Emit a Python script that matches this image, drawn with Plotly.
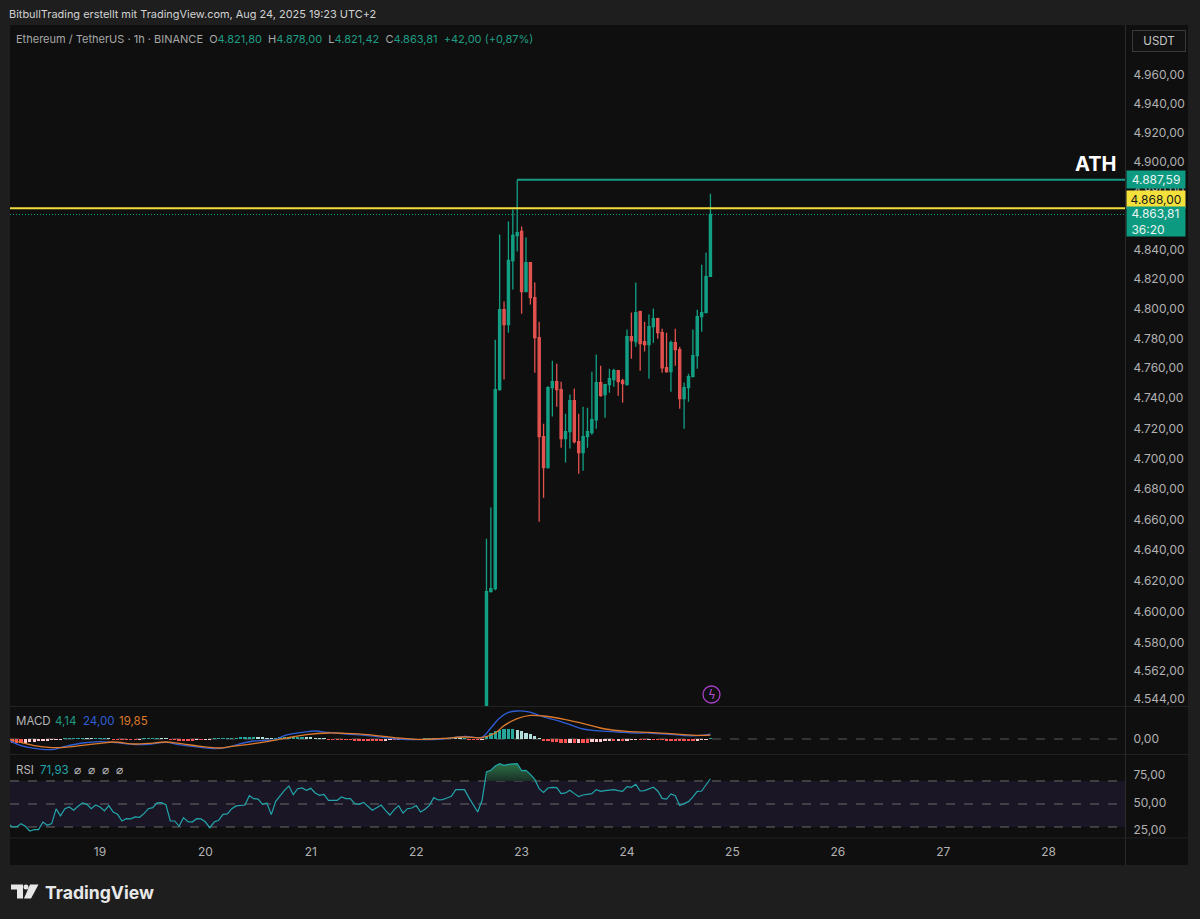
import math
import pandas as pd
import plotly.graph_objects as go
from plotly.subplots import make_subplots

# candles, 1h, Aug 22 16:00 -> Aug 24 19:00
candle_open = [4500, 4613.1, 4615, 4745.7, 4799.3, 4789.2, 4832.5, 4849.5, 4852.2, 4811.5, 4831.1, 4807.4, 4780.5,
               4714.5, 4694.1, 4747, 4751, 4745.7, 4713.2, 4717.8, 4738.4, 4711.2, 4704, 4714.5, 4717.2, 4725.7,
               4750.4, 4742.4, 4749, 4752.4, 4758.3, 4751.7, 4749, 4781.2, 4777.8, 4798, 4777.8, 4775.8, 4787.9,
               4793.3, 4783.8, 4760.3, 4757.7, 4777.1, 4772.4, 4739.7, 4747, 4754.4, 4768.4, 4794.6, 4797.3, 4821.8]
candle_high = [4647.5, 4667.8, 4779.1, 4850.1, 4804.7, 4859, 4867.2, 4887.59, 4855.6, 4848.1, 4831.5, 4817.6, 4791.2,
               4723.1, 4748, 4765, 4763, 4751, 4729.7, 4742.4, 4746.4, 4729.7, 4734.4, 4733.7, 4757.7, 4769.1,
               4761.7, 4749.7, 4759.7, 4759.7, 4758.8, 4753, 4785.9, 4797.3, 4817.6, 4798.5, 4791.2, 4796, 4800,
               4793.8, 4786.5, 4783.8, 4778.5, 4786.5, 4774.4, 4750.4, 4756.3, 4785.9, 4799.3, 4829.7, 4837.9, 4878]
candle_low = [4500, 4612.5, 4614, 4745, 4752.4, 4783.8, 4812.8, 4838.6, 4796.6, 4811, 4802.7, 4757, 4658.6,
              4674.3, 4693.5, 4727.8, 4734.4, 4707.2, 4697.4, 4706.6, 4709.9, 4690, 4692, 4707.2, 4715.8, 4719.8,
              4741, 4727, 4743.7, 4747.7, 4741.7, 4737, 4748.5, 4766.4, 4774.4, 4758.3, 4771.1, 4753, 4777.1,
              4779.8, 4757, 4757, 4744.3, 4761.7, 4733, 4719.8, 4737.7, 4754, 4759.7, 4784.5, 4797, 4821.42]
candle_close = [4613.1, 4615, 4745.7, 4799.3, 4789.2, 4832.5, 4849.5, 4851.5, 4811.5, 4831.1, 4807.4, 4780.5, 4714.5,
                4694.1, 4747, 4751, 4745.7, 4713.2, 4717.8, 4738.4, 4711.2, 4704, 4714.5, 4717.8, 4725.7, 4750.4,
                4741.7, 4749, 4753, 4758.3, 4751, 4749.7, 4781.2, 4778.5, 4797.3, 4776.4, 4775.8, 4787.9, 4793.3,
                4783.8, 4760.3, 4757.7, 4777.1, 4772.4, 4739.7, 4747, 4754.4, 4768.4, 4794.6, 4797.3, 4821.6, 4863.81]

price_ticks = [4960, 4940, 4920, 4900, 4880, 4840, 4820, 4800, 4780, 4760, 4740, 4720, 4700, 4680, 4660,
               4640, 4620, 4600, 4580, 4562, 4544]
ath_price = 4887.59
yellow_price = 4868.0
last_price = 4863.81

# indicators, hourly from Aug 18 03:00 (161 bars)
rsi_values = [33.5, 30, 30, 32.9, 30.6, 26.5, 27.7, 27.7, 34.3, 31.4,
              32.9, 45.7, 39.6, 45.9, 47.4, 44.5, 48, 50.9, 49.7, 45.9,
              49.1, 47.4, 43.9, 48.6, 43, 41, 35.2, 37.2, 37, 38.7,
              38.4, 41.6, 45.9, 46.8, 50.9, 51.2, 49.4, 35.2, 35.2, 30.6,
              38.1, 34.6, 34.3, 37.2, 37, 34.3, 29.4, 34.3, 35.8, 41,
              41.3, 45.9, 48.3, 48.6, 49.1, 57.2, 54.6, 54.3, 49.7, 50.9,
              40.7, 52.3, 57.5, 61.9, 65.7, 58.1, 63.3, 63.9, 61.9, 63.6,
              59.6, 57.5, 58.4, 53.2, 53.2, 53.2, 56.1, 54.6, 54.6, 50.3,
              49.7, 51.4, 48, 44.5, 46.8, 49.1, 44.5, 40.4, 45.1, 48.6,
              42.2, 45.9, 46.5, 48.6, 43, 45.4, 48.8, 55.5, 53.5, 53.8,
              55.2, 56.7, 62.5, 62.5, 62.5, 55.5, 49.7, 43, 53.2, 77.8,
              79.3, 83, 85.1, 83.6, 84.5, 85.1, 85.1, 79, 79.3, 75.8,
              71.4, 63.3, 60.1, 63.9, 64.5, 64.2, 59, 59.6, 61.9, 59,
              56.4, 57.8, 58.1, 59, 62.5, 61, 61.6, 62.2, 62.5, 61.6,
              61, 65.1, 64.5, 67.1, 61.3, 61.6, 63.3, 64.5, 61.3, 54.9,
              54.3, 58.7, 57.2, 48.6, 50.3, 52, 56.1, 61, 61.3, 67.1,
              71.93]
macd_hist = [-15, -18, -20, -20, -18, -15, -13, -10, -8, -6, -4, -2, -1,
             2, 3, 4, 5, 5, 4, 3, 3, 4, 4, 3,
             -1, -2, -3, -4, -4, -4, -3,
             2, 3, 3, 3, 2, 1,
             -3, -5, -6, -6, -6, -6, -5, -5, -3,
             -2, 1, 2, 3, 4, 4, 5,
             6, 8, 9, 9, 8, 6, 5,
             3, 4, 6,
             8, 9, 10, 10, 10, 9, 7,
             4, 3, 1,
             -1, -2, -3, -4, -5, -5, -6, -6, -6, -6, -6, -6, -7, -6, -5, -5,
             -4, -4, -3, -2, -2, -1, 1, 1, 2, 3, 3, 3, 3, 2, 1, 1, -2, -3, -5, -3,
             17, 30, 38, 43, 50, 50, 50, 47, 38, 32, 25, 17, 5,
             -10, -12, -13, -14, -18, -20, -18, -20, -18, -18, -18, -16, -15, -13, -12, -10, -10, -8, -8, -7,
             -5, -4, -4, -4, -3, -4, -4, -5, -6, -6, -6, -8, -8, -8, -8, -6, -5, -3, 4.14]

# line vertices: hours after Aug 19 00:00
macd_hours = [-21, -18, -15, -11, -8, -4, 0, 3, 8, 11, 15, 18, 23, 26, 29, 32, 35, 38, 40, 42, 46, 49, 52, 56, 61, 68,
              73, 78, 83, 87, 89, 91, 93, 95, 97, 99, 101, 104, 107, 110, 113, 118, 122, 125, 129, 133, 137, 139]
macd_values = [-5, -33, -47, -53, -37, -20, -13, -17, -28, -27, -17, -28, -42, -48, -42, -23, -10, -7, -3, 17, 33, 40,
               33, 25, 17, 0, -3, 0, 13, 10, 55, 105, 133, 140, 138, 127, 110, 93, 72, 50, 42, 35, 30, 30, 25, 17, 18,
               24]
signal_hours = [-21, -18, -15, -11, -8, -4, 0, 3, 8, 11, 15, 18, 23, 27, 30, 35, 38, 42, 47, 52, 56, 61, 68, 73, 78,
                83, 87, 90, 92, 95, 98, 101, 106, 111, 115, 120, 125, 129, 133, 137, 139]
signal_values = [0, -17, -33, -43, -42, -32, -22, -15, -25, -22, -15, -22, -37, -45, -37, -23, -13, 3, 22, 30, 28, 22,
                 5, -2, 3, 10, 7, 30, 67, 102, 118, 115, 97, 72, 50, 38, 33, 28, 22, 18, 19.85]
rsi_ticks = [75.3, 50.7, 27.3]
rsi_tick_text = ['75,00', '50,00', '25,00']

GREEN = '#12a085'
RED = '#e2524f'
BG = '#1e1e1e'
PANE = '#0f0f0f'
TXT = '#b2b2b2'
FONT = 'Inter'


def X(px):
    return (px - 10) / 1115


def Y(py):
    return (838 - py) / 813


def de_num(v):
    return f'{v:,.2f}'.replace(',', '#').replace('.', ',').replace('#', '.')


def hour_x(h):
    return pd.Timestamp('2025-08-19') + pd.Timedelta(hours=h)


def rect_path(points):
    return 'M ' + ' L '.join(f'{X(a)},{Y(b)}' for a, b in points) + ' Z'


candle_x = pd.date_range('2025-08-22 16:00', periods=len(candle_open), freq='h')
ind_x = pd.date_range('2025-08-18 03:00', periods=len(rsi_values), freq='h')
x_start = pd.Timestamp('2025-08-18 03:30')
x_end = pd.Timestamp('2025-08-28 17:24')

# histogram colours depend on direction
hist_colors = []
for i, v in enumerate(macd_hist):
    prev = macd_hist[i - 1] if i else v
    if v >= 0:
        hist_colors.append('#26a69a' if v >= prev else '#b2dfdb')
    else:
        hist_colors.append('#ff5252' if v <= prev else '#ffcdd2')

fig = make_subplots(rows=3, cols=1, shared_xaxes=True)

fig.add_trace(go.Candlestick(
    x=candle_x, open=candle_open, high=candle_high, low=candle_low, close=candle_close,
    increasing=dict(line=dict(color=GREEN, width=1.3), fillcolor=GREEN),
    decreasing=dict(line=dict(color=RED, width=1.3), fillcolor=RED),
    whiskerwidth=0, hoverinfo='skip'), row=1, col=1)
fig.add_trace(go.Scatter(x=[candle_x[7], x_end], y=[ath_price, ath_price], mode='lines',
                         line=dict(color='#1a9a86', width=2)), row=1, col=1)
fig.add_trace(go.Scatter(x=[x_start, x_end], y=[last_price, last_price], mode='lines',
                         line=dict(color=GREEN, width=1, dash='1px,2px')), row=1, col=1)
fig.add_trace(go.Scatter(x=[x_start, x_end], y=[yellow_price, yellow_price], mode='lines',
                         line=dict(color='#f0dc3c', width=2)), row=1, col=1)

fig.add_trace(go.Bar(x=ind_x, y=macd_hist, marker=dict(color=hist_colors, line=dict(width=0)), width=2700000),
              row=2, col=1)
fig.add_trace(go.Scatter(x=[hour_x(h) for h in macd_hours], y=macd_values, mode='lines',
                         line=dict(color='#2f5fd6', width=1.3, shape='spline')), row=2, col=1)
fig.add_trace(go.Scatter(x=[hour_x(h) for h in signal_hours], y=signal_values, mode='lines',
                         line=dict(color='#dd7a2c', width=1.3, shape='spline')), row=2, col=1)

# overbought shading, the block above 70 on Aug 22/23
over_x = ind_x[109:121]
over_y = rsi_values[109:121]
fig.add_trace(go.Scatter(x=over_x, y=[70] * len(over_x), mode='lines', line=dict(width=0)), row=3, col=1)
fig.add_trace(go.Scatter(x=over_x, y=over_y, mode='lines', line=dict(width=0), fill='tonexty',
                         fillgradient=dict(type='vertical', colorscale=[[0, '#1a3026'], [1, '#2c7046']])),
              row=3, col=1)
fig.add_trace(go.Scatter(x=ind_x, y=rsi_values, mode='lines', line=dict(color='#22a5ab', width=1.2)), row=3, col=1)

shapes = [
    dict(type='rect', xref='paper', yref='paper', x0=X(10), x1=X(1188), y0=Y(25), y1=Y(865),
         fillcolor=PANE, line=dict(width=0), layer='below'),
    dict(type='rect', xref='x3', yref='y3', x0=x_start, x1=x_end, y0=30, y1=70,
         fillcolor='#1a1626', line=dict(width=0), layer='below'),
    dict(type='line', xref='paper', yref='paper', x0=X(1125.5), x1=X(1125.5), y0=Y(25), y1=Y(865),
         line=dict(color='#2b2b2b', width=1)),
]
for py in [706.5, 754.5, 838]:
    shapes.append(dict(type='line', xref='paper', yref='paper', x0=X(10), x1=X(1188), y0=Y(py), y1=Y(py),
                       line=dict(color='#222222', width=1)))
shapes.append(dict(type='line', xref='x2', yref='y2', x0=x_start, x1=x_end, y0=0, y1=0,
                   line=dict(color='#5a5a5a', width=1, dash='dash'), layer='below'))
for lvl in [70, 50, 30]:
    shapes.append(dict(type='line', xref='x3', yref='y3', x0=x_start, x1=x_end, y0=lvl, y1=lvl,
                       line=dict(color='#6a6a6a', width=1, dash='dash'), layer='below'))
# lightning marker
shapes.append(dict(type='circle', xref='paper', yref='paper', x0=X(703), x1=X(720), y0=Y(686), y1=Y(703),
                   line=dict(color='#a93fc9', width=1.3)))
# logo
shapes.append(dict(type='path', xref='paper', yref='paper', line=dict(width=0), fillcolor='#e8e8e8',
                   path=rect_path([(11, 884.5), (23, 884.5), (23, 898.5), (17, 898.5), (17, 889.5), (11, 889.5)])))
shapes.append(dict(type='path', xref='paper', yref='paper', line=dict(width=0), fillcolor='#e8e8e8',
                   path=rect_path([(30, 884.5), (38.5, 884.5), (31, 898.5), (24, 898.5)])))
shapes.append(dict(type='circle', xref='paper', yref='paper', x0=X(23.5), x1=X(28.5), y0=Y(884.5), y1=Y(889.5),
                   fillcolor='#e8e8e8', line=dict(width=0)))

annos = []


def note(px, py, text, size=11.5, color=TXT, anchor='left', **kw):
    annos.append(dict(xref='paper', yref='paper', x=X(px), y=Y(py), text=text, showarrow=False, xanchor=anchor,
                      yanchor='middle', font=dict(family=kw.pop('family', FONT), size=size, color=color), **kw))


def span(text, color):
    return f'<span style="color:{color}">{text}</span>'


note(7, 14, 'BitbullTrading erstellt mit TradingView.com, Aug 24, 2025 19:23 UTC+2', size=10.95, color='#d2d2d2')
val_green = '#1f9d84'
note(14, 39, 'Ethereum / TetherUS · 1h · BINANCE  O' + span('4.821,80', val_green) + '  H' + span('4.878,00', val_green)
     + '  L' + span('4.821,42', val_green) + '  C' + span('4.863,81', val_green) + '  '
     + span('+42,00 (+0,87%)', val_green), size=11, color='#a8a8a8')
note(14, 721, 'MACD', size=11.5, color='#b8b8b8')
note(53, 721, '4,14', size=11.5, color='#1f9d84')
note(81, 721, '24,00', size=11.5, color='#2f5fd6')
note(117, 721, '19,85', size=11.5, color='#dd7a2c')
note(14, 770, 'RSI', size=11.5, color='#b8b8b8')
note(38, 770, '71,93', size=11.5, color='#22a5ab')
for px in [72, 86, 100, 114]:
    note(px, 770, '⌀', size=11.5, color='#b8b8b8')
note(1095, 164, '<b>ATH</b>', size=20, color='#ffffff', anchor='center')
note(711.5, 694.5, 'ϟ', size=12, color='#b44dd6', anchor='center', family='DejaVu Sans')
note(43, 892, '<b>TradingView</b>', size=17.6, color='#e8e8e8')
note(1158.5, 41, 'USDT', size=11.5, color='#c8c8c8', anchor='center', bordercolor='#3a3a3a', borderwidth=1,
     borderpad=3, width=46, height=14, bgcolor='#121212')
note(1126, 179.5, de_num(ath_price), size=12, color='#e8f5f2', bgcolor='#0c9a80', width=56, height=15)
note(1126, 199.5, de_num(yellow_price), size=12, color='#1a1a1a', bgcolor='#f5e13c', width=56, height=15)
note(1126, 221.5, '&nbsp;' + de_num(last_price) + '<br>&nbsp;36:20', size=12, color='#e8f5f2', bgcolor='#0c9a80',
     width=56, height=27, align='left')

fig.update_layout(
    width=1200, height=919, showlegend=False, paper_bgcolor=BG, plot_bgcolor='rgba(0,0,0,0)',
    margin=dict(l=10, r=75, t=25, b=81), font=dict(family=FONT, color=TXT, size=12),
    shapes=shapes, annotations=annos, bargap=0,
)
common_x = dict(range=[x_start, x_end], showgrid=False, zeroline=False, showticklabels=False, ticks='')
fig.update_xaxes(**common_x)
fig.update_xaxes(rangeslider_visible=False, row=1, col=1)
fig.update_xaxes(showticklabels=True, row=3, col=1, tickmode='array',
                 tickvals=[pd.Timestamp(2025, 8, d) for d in range(19, 29)], ticktext=[str(d) for d in range(19, 29)],
                 ticks='outside', ticklen=3, tickcolor='rgba(0,0,0,0)', tickfont=dict(size=12, color=TXT))
y_common = dict(side='right', showgrid=False, zeroline=False, ticks='outside', ticklen=5,
                tickcolor='rgba(0,0,0,0)', tickfont=dict(size=12, color=TXT))
fig.update_layout(
    yaxis=dict(domain=[Y(706), Y(25)], type='log', range=[math.log10(4539.6), math.log10(4994.9)],
               tickmode='array', tickvals=price_ticks, ticktext=[de_num(p) for p in price_ticks], **y_common),
    yaxis2=dict(domain=[Y(754), Y(707)], range=[-75, 160], tickmode='array', tickvals=[0], ticktext=['0,00'],
                **y_common),
    yaxis3=dict(domain=[0, Y(755)], range=[20.4, 92.6], tickmode='array', tickvals=rsi_ticks,
                ticktext=rsi_tick_text, **y_common),
)

fig.write_html("out.html", config={'displayModeBar': False},
               post_script="document.body.style.margin='0';document.body.style.background='#1e1e1e';")
